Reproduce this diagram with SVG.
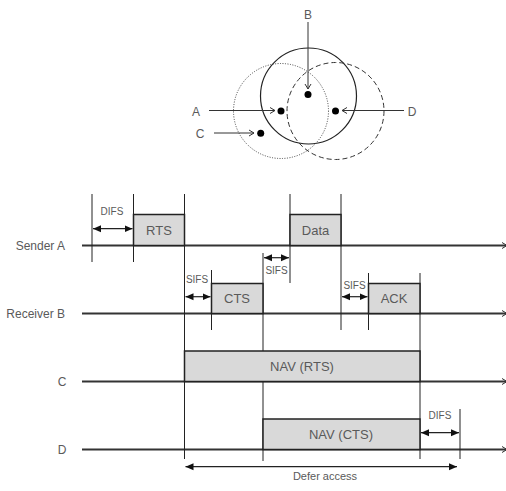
<svg xmlns="http://www.w3.org/2000/svg" width="506" height="491" viewBox="0 0 506 491">
<style>
text{font-family:"Liberation Sans",Arial,sans-serif;fill:#5a5a5a}
.lbl{font-size:12px}
.small{font-size:10px;text-anchor:middle}
.box{fill:#d9d9d9;stroke:#222;stroke-width:1.5}
.bt{font-size:13px;text-anchor:middle}
.tl{stroke:#333;stroke-width:2;fill:none}
.v{stroke:#222;stroke-width:1;fill:none}
.dim{stroke:#222;stroke-width:1.2;fill:none}
.ptr{stroke:#333;stroke-width:1;fill:none}
</style>
<defs>
<marker id="open" markerWidth="8" markerHeight="8" refX="6" refY="4" orient="auto" markerUnits="userSpaceOnUse">
<path d="M1,1 L6,4 L1,7" fill="none" stroke="#333" stroke-width="1"/>
</marker>
<marker id="tri" markerWidth="10" markerHeight="8" refX="8" refY="4" orient="auto-start-reverse" markerUnits="userSpaceOnUse">
<path d="M0,0.5 L8,4 L0,7.5 Z" fill="#111"/>
</marker>
</defs>
<g id="circles">
<circle cx="308.5" cy="96" r="48" fill="none" stroke="#222" stroke-width="1.2"/>
<circle cx="281" cy="111" r="47.5" fill="none" stroke="#444" stroke-width="1" stroke-dasharray="1,1.5"/>
<circle cx="335.5" cy="111" r="48.5" fill="none" stroke="#333" stroke-width="1" stroke-dasharray="5,3"/>
</g>
<g id="stations">
<circle cx="308" cy="94.5" r="3.5" fill="#000"/>
<circle cx="281" cy="111" r="3.5" fill="#000"/>
<circle cx="335.5" cy="111" r="3.5" fill="#000"/>
<circle cx="260.7" cy="133.3" r="3.5" fill="#000"/>
<text x="308" y="19" class="lbl" text-anchor="middle">B</text>
<text x="196" y="115.5" class="lbl" text-anchor="middle">A</text>
<text x="412" y="115.5" class="lbl" text-anchor="middle">D</text>
<text x="200" y="137.5" class="lbl" text-anchor="middle">C</text>
</g>
<g id="pointers">
<line x1="308" y1="22" x2="308" y2="89" class="ptr" marker-end="url(#open)"/>
<line x1="209" y1="110.5" x2="275" y2="110.5" class="ptr" marker-end="url(#open)"/>
<line x1="404" y1="110.5" x2="342" y2="110.5" class="ptr" marker-end="url(#open)"/>
<line x1="214" y1="133" x2="254" y2="133" class="ptr" marker-end="url(#open)"/>
</g>
<g id="timelines">
<text x="65" y="249.5" class="lbl" text-anchor="end">Sender A</text>
<text x="65" y="317.5" class="lbl" text-anchor="end">Receiver B</text>
<text x="62" y="386" class="lbl" text-anchor="middle">C</text>
<text x="62" y="454" class="lbl" text-anchor="middle">D</text>
<line x1="82" y1="245.5" x2="507" y2="245.5" class="tl" marker-end="url(#open)"/>
<line x1="82" y1="313.5" x2="507" y2="313.5" class="tl" marker-end="url(#open)"/>
<line x1="82" y1="381.5" x2="507" y2="381.5" class="tl" marker-end="url(#open)"/>
<line x1="82" y1="449.5" x2="507" y2="449.5" class="tl" marker-end="url(#open)"/>
</g>
<g id="verticals">
<line x1="92" y1="194" x2="92" y2="262" class="v"/>
<line x1="133.5" y1="194" x2="133.5" y2="262" class="v"/>
<line x1="184.5" y1="194" x2="184.5" y2="459" class="v"/>
<line x1="211.5" y1="270" x2="211.5" y2="330" class="v" stroke="#555"/>
<line x1="263" y1="253" x2="263" y2="461" class="v" stroke="#555"/>
<line x1="290" y1="194" x2="290" y2="283" class="v" stroke="#555"/>
<line x1="341" y1="194" x2="341" y2="330" class="v"/>
<line x1="368.5" y1="273" x2="368.5" y2="330" class="v" stroke="#555"/>
<line x1="420" y1="273" x2="420" y2="459" class="v" stroke="#555"/>
<line x1="460" y1="409" x2="460" y2="459" class="v" stroke="#555"/>
</g>
<g id="rts"><rect x="133.5" y="214.5" width="51" height="31" class="box"/><text x="159" y="234.5" class="bt">RTS</text></g>
<g id="cts"><rect x="211.5" y="283.5" width="51.5" height="30" class="box"/><text x="237" y="303" class="bt">CTS</text></g>
<g id="data"><rect x="290" y="214.5" width="51" height="31" class="box"/><text x="315.5" y="234.5" class="bt">Data</text></g>
<g id="ack"><rect x="368.5" y="283.5" width="51.5" height="30" class="box"/><text x="394" y="303" class="bt">ACK</text></g>
<g id="nav-rts"><rect x="184.5" y="351" width="235.5" height="30.5" class="box"/><text x="302" y="371" class="bt">NAV (RTS)</text></g>
<g id="nav-cts"><rect x="263" y="419" width="157" height="30.5" class="box"/><text x="341" y="439" class="bt">NAV (CTS)</text></g>
<g id="connectors">
<line x1="93" y1="228.7" x2="132.5" y2="228.7" class="dim" marker-start="url(#tri)" marker-end="url(#tri)"/>
<line x1="185.5" y1="296.7" x2="210.5" y2="296.7" class="dim" marker-start="url(#tri)" marker-end="url(#tri)"/>
<line x1="264" y1="257.7" x2="289" y2="257.7" class="dim" marker-start="url(#tri)" marker-end="url(#tri)"/>
<line x1="342" y1="296.7" x2="367.5" y2="296.7" class="dim" marker-start="url(#tri)" marker-end="url(#tri)"/>
<line x1="421" y1="432.7" x2="459" y2="432.7" class="dim" stroke="#666" marker-start="url(#tri)" marker-end="url(#tri)"/>
<line x1="185.5" y1="466.7" x2="457" y2="466.7" class="dim" stroke="#777" marker-start="url(#tri)" marker-end="url(#tri)"/>
</g>
<g id="labels">
<text x="112" y="215" class="small">DIFS</text>
<text x="197" y="283" class="small">SIFS</text>
<text x="276.5" y="274" class="small">SIFS</text>
<text x="354.5" y="289" class="small">SIFS</text>
<text x="440" y="419" class="small">DIFS</text>
<text x="325" y="480" class="small" style="font-size:11px">Defer access</text>
</g>
</svg>
